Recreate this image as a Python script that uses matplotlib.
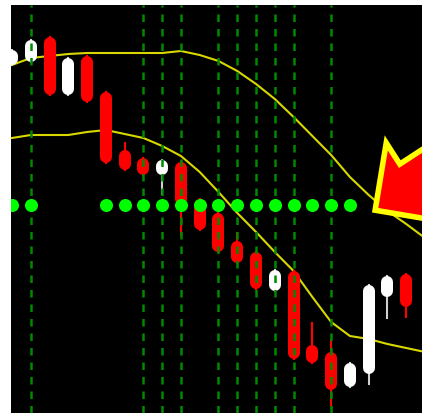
import matplotlib
matplotlib.use("Agg")
import matplotlib.pyplot as plt
from matplotlib.patches import Polygon

# bar data (price in chart units, one bar per index)
opens = [348, 351, 376, 318, 357, 321, 263, 255, 238, 251, 214, 200, 172, 161, 122, 142, 68, 61, 26, 39, 116, 139, 114]
highs = [363, 373, 376, 355, 357, 321, 270, 255, 253, 251, 214, 200, 180, 161, 143, 142, 90, 73, 50, 128, 137, 139, 114]
lows = [348, 351, 318, 318, 311, 250, 243, 238, 219, 178, 183, 161, 150, 124, 122, 54, 50, 8, 26, 29, 95, 96, 67]
closes = [363, 373, 318, 355, 311, 250, 243, 238, 253, 208, 183, 161, 150, 124, 143, 54, 50, 23, 50, 128, 137, 106, 67]

# envelope lines
upper_band = [348, 355, 357, 359, 360, 360, 360, 360, 360, 362, 358, 352, 342, 329, 314, 296, 277, 258, 236, 218, 202, 189, 175]
lower_band = [275, 278, 278, 278, 281, 283, 279, 275, 267, 257, 241, 221, 200, 181, 161, 142, 116, 91, 77, 74, 69, 65, 61]

# signal dots and marked bars
dot_bars = [0, 1, 5, 6, 7, 8, 9, 10, 11, 12, 13, 14, 15, 16, 17, 18]
dot_level = 208
marked_bars = [1, 7, 8, 9, 11, 12, 13, 14, 15, 17]

# big arrow outline (axes fraction)
arrow_pts = [(0.913, 0.662), (0.946, 0.610), (1.01, 0.652), (1.01, 0.476), (0.886, 0.497)]

W, H = 422, 413
fig = plt.figure(figsize=(W / 100, H / 100), dpi=100, facecolor="white")
ax = fig.add_axes([11 / W, 0, 411 / W, 408 / H])
ax.set_facecolor("black")
ax.set_xlim(-0.053, 21.84)
ax.set_ylim(0, 408)
ax.set_xticks([])
ax.set_yticks([])
for s in ax.spines.values():
    s.set_visible(False)

n = len(opens)
idx = list(range(n))

ax.plot(idx, upper_band, color="#d8d800", lw=1.5, zorder=1)
ax.plot(idx, lower_band, color="#d8d800", lw=1.5, zorder=1)

body_px = 12
px_per_unit = 408 / 408
cap = (body_px / 2) / px_per_unit
for i in idx:
    up = closes[i] >= opens[i]
    col = "white" if up else "#ff0000"
    wick_col = "#cfcfcf" if up else "#ff0000"
    ax.plot([i, i], [lows[i], highs[i]], color=wick_col, lw=1.5, zorder=2)
    top = max(opens[i], closes[i]) - cap
    bot = min(opens[i], closes[i]) + cap
    if top < bot:
        top = bot = (top + bot) / 2
    ax.plot([i, i], [bot, top], color=col, lw=body_px * 0.72,
            solid_capstyle="round", zorder=3)

for i in marked_bars:
    ax.axvline(i, color="#008a00", lw=1.8, dashes=(3.0, 2.8), zorder=4)

ax.plot(dot_bars, [dot_level] * len(dot_bars), "o", ms=9.4, color="#00ff00",
        markeredgewidth=0, zorder=5)

ax.add_patch(Polygon(arrow_pts, closed=True, transform=ax.transAxes,
                     facecolor="#ff0000", edgecolor="#ffff00", lw=4,
                     joinstyle="miter", zorder=6, clip_on=True))

fig.savefig("out.png", dpi=100, facecolor="white")
